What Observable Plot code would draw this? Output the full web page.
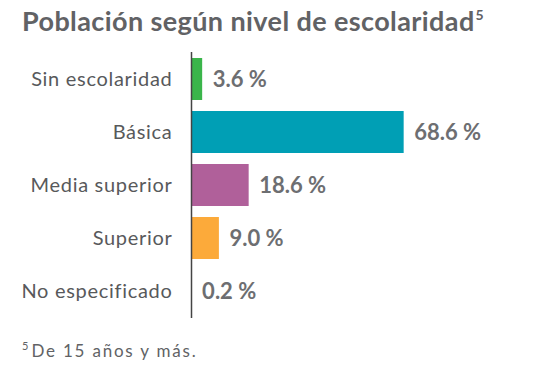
<!DOCTYPE html>
<html>
<head>
<meta charset="utf-8">
<script src="https://cdn.jsdelivr.net/npm/d3@7"></script>
<script src="https://cdn.jsdelivr.net/npm/@observablehq/plot@0.6"></script>
<style>
  body { margin: 0; background: #fff; width: 540px; height: 365px; overflow: hidden; }
  #title { height: 48px; box-sizing: border-box; padding: 4px 0 0 22px; font: bold 27px Lato, sans-serif; letter-spacing: 0.4px; color: #616265; white-space: nowrap; }
  #title sup { font-size: 14px; font-weight: bold; vertical-align: 11px; margin-left: 1px; }
  #foot { padding: 11px 0 0 22px; font: 17px Lato, sans-serif; letter-spacing: 1.8px; color: #616265; }
  #foot sup { font-size: 11px; vertical-align: 7px; margin-right: 3px; letter-spacing: 0; }
  #chart g[aria-label="y-axis tick label"] text { letter-spacing: 0.7px; }
</style>
</head>
<body>
<div id="title">Población según nivel de escolaridad<sup>5</sup></div>
<div id="chart"></div>
<div id="foot"><sup>5</sup>De 15 años y más.</div>
<script>
const categories = ["Sin escolaridad", "Básica", "Media superior", "Superior", "No especificado"];
const values = [3.6, 68.6, 18.6, 9.0, 0.2];
const valueLabels = ["3.6 %", "68.6 %", "18.6 %", "9.0 %", "0.2 %"];
const colors = ["#3ab54a", "#009fb5", "#b0609a", "#fcaa3a", "#00a19a"];

const data = categories.map((c, i) => ({category: c, value: values[i], label: valueLabels[i], color: colors[i]}));

const chart = Plot.plot({
  width: 540,
  height: 280,
  marginLeft: 191,
  marginRight: 39,
  marginTop: 4,
  marginBottom: 10,
  x: {domain: [0, 100], axis: null},
  y: {domain: categories, paddingInner: 0.2, paddingOuter: 0.08, label: null, axis: null},
  color: {type: "identity"},
  style: {fontFamily: "Lato, sans-serif", background: "#fff"},
  marks: [
    Plot.barX(data, {x: "value", y: "category", fill: "color"}),
    Plot.ruleX([0], {stroke: "#444", strokeWidth: 1.5}),
    Plot.text(data, {x: "value", y: "category", text: "label", textAnchor: "start", dx: 10, fontSize: 22, fontWeight: "bold", fill: "#6d6e71"}),
    Plot.axisY({tickSize: 0, tickPadding: 19, fontSize: 20, fill: "#58595b", label: null})
  ]
});
document.getElementById("chart").appendChild(chart);
</script>
</body>
</html>
